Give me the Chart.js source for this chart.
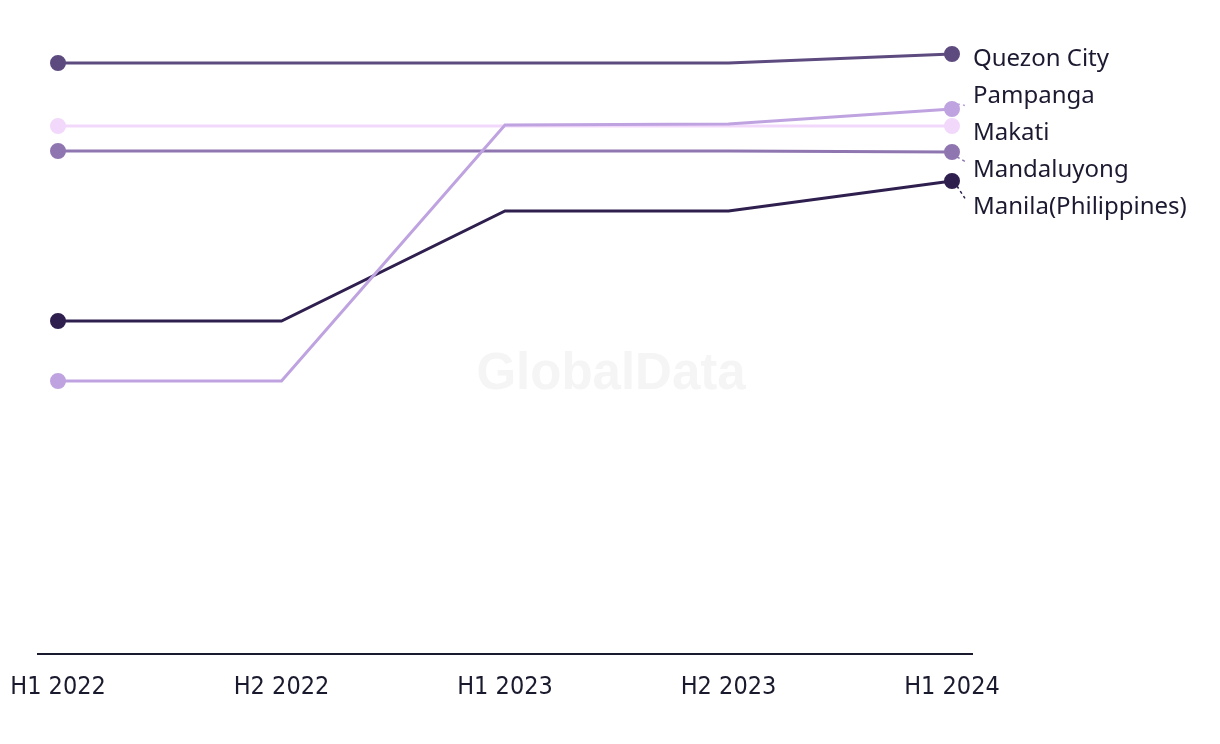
<!DOCTYPE html>
<html>
<head>
<meta charset="utf-8">
<script src="https://cdn.jsdelivr.net/npm/chart.js@4"></script>
<style>
    html, body { margin: 0; padding: 0; background: #fff; }
    #wrap { width: 1220px; height: 744px; }
</style>
</head>
<body>
<div id="wrap"><canvas id="lineChart"></canvas></div>
<script>
// data (relative units, 0 = axis line)
const periods = ['H1 2022', 'H2 2022', 'H1 2023', 'H2 2023', 'H1 2024'];
const cities = ['Quezon City', 'Pampanga', 'Makati', 'Mandaluyong', 'Manila(Philippines)'];
const quezonCity = [591, 591, 591, 591, 600];
const pampanga = [273, 273, 529, 530, 545];
const makati = [528, 528, 528, 528, 528];
const mandaluyong = [503, 503, 503, 503, 502];
const manila = [333, 333, 443, 443, 473];
const colors = ['#5d4a7e', '#bfa3e0', '#f2d9fb', '#8f76b1', '#2f1f4f'];

const seriesValues = [quezonCity, pampanga, makati, mandaluyong, manila];

function toPoints(values) {
    return values.map((v, i) => ({ x: i, y: v }));
}

const datasets = cities.map((name, i) => ({
    label: name,
    data: toPoints(seriesValues[i]),
    borderColor: colors[i],
    backgroundColor: colors[i],
    borderWidth: 3,
    pointRadius: seriesValues[i].map((_, j) => (j === 0 || j === periods.length - 1) ? 6.5 : 0),
    pointHoverRadius: 0,
    tension: 0,
    clip: false
}));

// watermark behind the lines
const watermark = {
    id: 'watermark',
    beforeDatasetsDraw(chart) {
        const ctx = chart.ctx;
        ctx.save();
        ctx.font = 'bold 51px "Liberation Sans", Arial, sans-serif';
        ctx.fillStyle = '#f5f5f5';
        ctx.textAlign = 'center';
        ctx.textBaseline = 'middle';
        ctx.fillText('GlobalData', 611, 375);
        ctx.restore();
    }
};

// labels at the end of each line, spread apart so they don't overlap
const endLabels = {
    id: 'endLabels',
    afterDatasetsDraw(chart) {
        const ctx = chart.ctx;
        const gap = 37;
        const items = chart.data.datasets.map((ds, i) => {
            const meta = chart.getDatasetMeta(i);
            const pt = meta.data[meta.data.length - 1];
            return { text: ds.label, color: ds.borderColor, px: pt.x, py: pt.y, y: pt.y };
        }).sort((a, b) => a.py - b.py);

        for (let k = 0; k < 200; k++) {
            let moved = false;
            for (let i = 1; i < items.length; i++) {
                const d = items[i].y - items[i - 1].y;
                if (d < gap - 0.01) {
                    const push = (gap - d) / 2;
                    items[i - 1].y -= push;
                    items[i].y += push;
                    moved = true;
                }
            }
            if (!moved) break;
        }

        ctx.save();
        ctx.font = '24px "Noto Sans", sans-serif';
        ctx.textBaseline = 'middle';
        ctx.textAlign = 'left';
        items.forEach(it => {
            const ly = it.y + 9;
            if (Math.abs(ly - it.py) > 8) {
                const dir = ly > it.py ? 1 : -1;
                ctx.beginPath();
                ctx.setLineDash([3, 3]);
                ctx.strokeStyle = it.color;
                ctx.lineWidth = 1.5;
                ctx.moveTo(it.px + 5, it.py + dir * 5);
                ctx.lineTo(it.px + 13, ly - dir * 9);
                ctx.stroke();
                ctx.setLineDash([]);
            }
            ctx.fillStyle = '#1c1a30';
            ctx.fillText(it.text, it.px + 21, ly);
        });
        ctx.restore();
    }
};

new Chart(document.getElementById('lineChart').getContext('2d'), {
    type: 'line',
    data: { datasets: datasets },
    options: {
        responsive: true,
        maintainAspectRatio: false,
        animation: false,
        layout: {
            padding: { left: 38, right: 248, top: 20, bottom: 42 }
        },
        plugins: {
            legend: { display: false },
            tooltip: { enabled: false }
        },
        scales: {
            x: {
                type: 'linear',
                min: -0.0895,
                max: 4.0895,
                grid: { display: false, drawTicks: false },
                border: { display: true, color: '#1a1a2e', width: 2 },
                afterBuildTicks(scale) {
                    scale.ticks = periods.map((_, i) => ({ value: i }));
                },
                afterFit(scale) {
                    scale.paddingLeft = 0;
                    scale.paddingRight = 0;
                    scale.height = 48;
                },
                ticks: {
                    padding: 18,
                    maxRotation: 0,
                    autoSkip: false,
                    color: '#1a1a2e',
                    font: { family: '"Liberation Sans Narrow", "DejaVu Sans Condensed", sans-serif', size: 25 },
                    callback: value => periods[value] ?? ''
                }
            },
            y: {
                display: false,
                min: 0,
                max: 634
            }
        }
    },
    plugins: [watermark, endLabels]
});
</script>
</body>
</html>
